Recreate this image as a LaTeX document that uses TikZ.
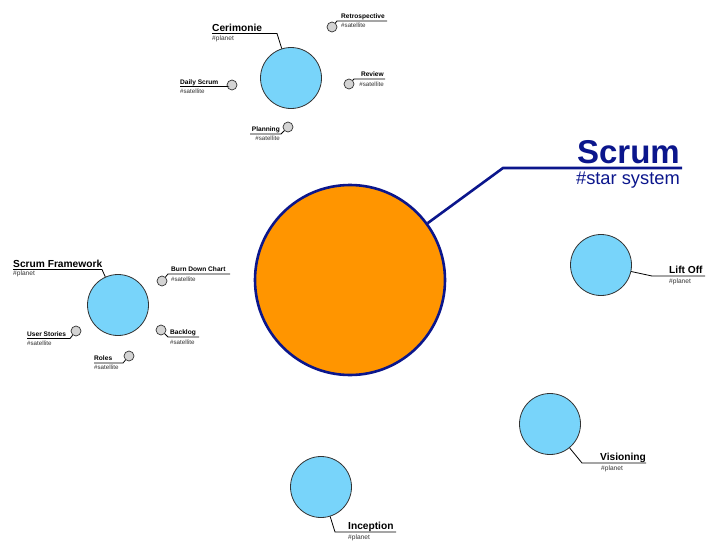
\documentclass[tikz,border=0pt]{standalone}
\usepackage{fontspec}
\setmainfont{Liberation Sans}
\definecolor{sunfill}{HTML}{FF9500}
\definecolor{navy}{HTML}{0B168C}
\definecolor{planetfill}{HTML}{78D4FA}
\definecolor{satfill}{HTML}{D4D4D4}
\definecolor{rim}{HTML}{333333}
\definecolor{tagc}{HTML}{333333}
\tikzset{
  sun/.style={circle, draw=navy, line width=2.6pt, fill=sunfill, minimum size=190pt, inner sep=0},
  planet/.style={circle, draw=rim, line width=0.8pt, fill=planetfill, minimum size=61pt, inner sep=0},
  sat/.style={circle, draw=rim, line width=0.7pt, fill=satfill, minimum size=10pt, inner sep=0},
  plabel/.style={inner sep=0, font=\fontsize{10.2}{12}\selectfont\bfseries},
  slabel/.style={inner sep=0, font=\fontsize{6.6}{8}\selectfont\bfseries},
  ptag/.style={inner sep=0, text=tagc, font=\fontsize{6.6}{8}\selectfont},
  stag/.style={inner sep=0, text=tagc, font=\fontsize{6.2}{8}\selectfont},
  link/.style={draw=black, line width=0.8pt},
}
\begin{document}
\begin{tikzpicture}[x=1pt,y=-1pt]
\useasboundingbox (0,0) rectangle (720,557);
% sun
\node[sun] (sun) at (350,280) {};
\coordinate (sunK) at (503,168);
\coordinate (sunE) at (682,168);
\draw[navy, line width=2.6pt] (sun) -- (sunK) -- (sunE);
\node[inner sep=0, anchor=base east, text=navy, font=\fontsize{33}{36}\selectfont\bfseries] (scrum) at (680,163) {Scrum};
\node[inner sep=0, anchor=base east, text=navy, font=\fontsize{18.3}{20}\selectfont] (scrumtag) at (680,184) {\#star system};

% Cerimonie
\node[planet] (cer) at (291,78) {};
\coordinate (cerA) at (212,33.5);
\coordinate (cerK) at (277,33.5);
\draw[link] (cerA) -- (cerK) -- (cer);
\node[plabel, anchor=base west] (cerL) at (212,31) {Cerimonie};
\node[ptag, anchor=base west] (cerT) at (212,40) {\#planet};

\node[sat] (retro) at (332,27) {};
\coordinate (retroK) at (337,21);
\coordinate (retroE) at (387,21);
\draw[link] (retro) -- (retroK) -- (retroE);
\node[slabel, anchor=base east] (retroL) at (385,18.5) {Retrospective};
\node[stag, anchor=base west] (retroT) at (341,27) {\#satellite};

\node[sat] (review) at (349,84) {};
\coordinate (reviewK) at (354,79);
\coordinate (reviewE) at (385,79);
\draw[link] (review) -- (reviewK) -- (reviewE);
\node[slabel, anchor=base east] (reviewL) at (384,76.5) {Review};
\node[stag, anchor=base east] (reviewT) at (384,86) {\#satellite};

\node[sat] (daily) at (232,85) {};
\coordinate (dailyA) at (180,86.5);
\coordinate (dailyK) at (227,86.5);
\draw[link] (dailyA) -- (dailyK) -- (daily);
\node[slabel, anchor=base west] (dailyL) at (180,84) {Daily Scrum};
\node[stag, anchor=base west] (dailyT) at (180,93) {\#satellite};

\node[sat] (plan) at (288,127) {};
\coordinate (planA) at (250,134);
\coordinate (planK) at (281,134);
\draw[link] (planA) -- (planK) -- (plan);
\node[slabel, anchor=base east] (planL) at (280,131.5) {Planning};
\node[stag, anchor=base east] (planT) at (280,140.5) {\#satellite};

% Scrum Framework
\node[planet] (fw) at (118,305) {};
\coordinate (fwA) at (13,269.5);
\coordinate (fwK) at (102,269.5);
\draw[link] (fwA) -- (fwK) -- (fw);
\node[plabel, anchor=base west] (fwL) at (13,267) {Scrum Framework};
\node[ptag, anchor=base west] (fwT) at (13,275) {\#planet};

\node[sat] (burn) at (162,281) {};
\coordinate (burnK) at (168,274);
\coordinate (burnE) at (230,274);
\draw[link] (burn) -- (burnK) -- (burnE);
\node[slabel, anchor=base west] (burnL) at (171,271.5) {Burn Down Chart};
\node[stag, anchor=base west] (burnT) at (171,281) {\#satellite};

\node[sat] (back) at (161,330) {};
\coordinate (backK) at (168,337);
\coordinate (backE) at (199,337);
\draw[link] (back) -- (backK) -- (backE);
\node[slabel, anchor=base west] (backL) at (170,334.5) {Backlog};
\node[stag, anchor=base west] (backT) at (170,344) {\#satellite};

\node[sat] (user) at (76,331) {};
\coordinate (userA) at (27,338.5);
\coordinate (userK) at (70,338.5);
\draw[link] (userA) -- (userK) -- (user);
\node[slabel, anchor=base west] (userL) at (27,336) {User Stories};
\node[stag, anchor=base west] (userT) at (27,345) {\#satellite};

\node[sat] (roles) at (129,356) {};
\coordinate (rolesA) at (94,363);
\coordinate (rolesK) at (123,363);
\draw[link] (rolesA) -- (rolesK) -- (roles);
\node[slabel, anchor=base west] (rolesL) at (94,360.5) {Roles};
\node[stag, anchor=base west] (rolesT) at (94,369.5) {\#satellite};

% Lift Off
\node[planet] (lift) at (601,265) {};
\coordinate (liftK) at (652,276);
\coordinate (liftE) at (705,276);
\draw[link] (lift) -- (liftK) -- (liftE);
\node[plabel, anchor=base west] (liftL) at (669,273) {Lift Off};
\node[ptag, anchor=base west] (liftT) at (669,283) {\#planet};

% Visioning
\node[planet] (vis) at (550,424) {};
\coordinate (visK) at (582,463);
\coordinate (visE) at (646,463);
\draw[link] (vis) -- (visK) -- (visE);
\node[plabel, anchor=base west] (visL) at (600,460) {Visioning};
\node[ptag, anchor=base west] (visT) at (601,470) {\#planet};

% Inception
\node[planet] (inc) at (321,487) {};
\coordinate (incK) at (335,532);
\coordinate (incE) at (396,532);
\draw[link] (inc) -- (incK) -- (incE);
\node[plabel, anchor=base west] (incL) at (348,529) {Inception};
\node[ptag, anchor=base west] (incT) at (348,539) {\#planet};
\end{tikzpicture}
\end{document}
